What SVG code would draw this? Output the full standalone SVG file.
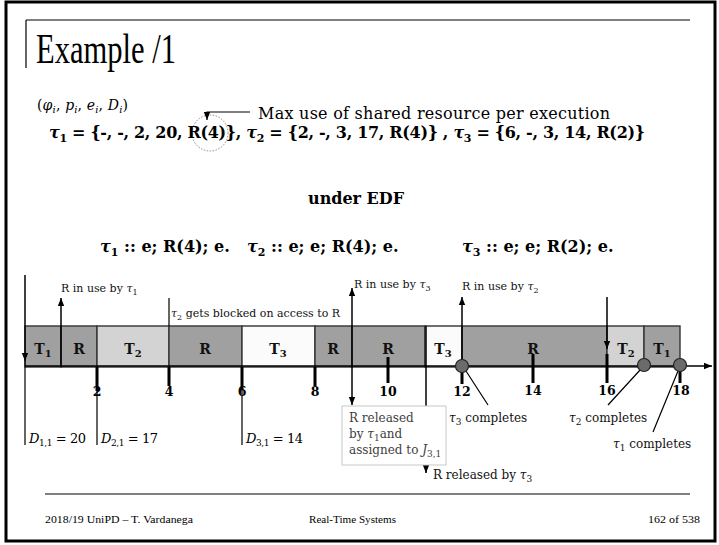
<svg xmlns="http://www.w3.org/2000/svg" width="719" height="545" viewBox="0 0 719 545">
<defs>
<marker id="ah" viewBox="0 0 8 8" refX="8" refY="4" markerWidth="8" markerHeight="8" orient="auto" markerUnits="userSpaceOnUse"><path d="M0,0.8 L8,4 L0,7.2 z" fill="#000"/></marker>
<style>
.frame{fill:none;stroke:#000;stroke-width:3}
.rule{stroke:#000;stroke-width:1.2}
.seg{stroke:#333;stroke-width:1.4}
.dk{fill:#a0a0a0}
.lt{fill:#d3d3d3}
.wh{fill:#fbfbfb}
.lbl{font-family:"DejaVu Serif",serif;font-weight:bold;font-size:14px;text-anchor:middle;fill:#111}
.num{font-family:"DejaVu Serif",serif;font-weight:bold;font-size:12.5px;text-anchor:middle;fill:#000}
.note{font-family:"DejaVu Serif",serif;font-size:11px;fill:#111}
.cmp{font-family:"DejaVu Serif",serif;font-size:12px;fill:#111}
.box{font-family:"DejaVu Serif",serif;font-size:12px;fill:#404040}
.bf{font-family:"DejaVu Serif",serif;font-weight:bold;font-size:16px;fill:#000}
.mi{font-family:"DejaVu Serif",serif;font-size:14px;fill:#000}
.dl{font-family:"DejaVu Serif",serif;font-size:13px;fill:#000}
.gar{font-family:"Liberation Serif",serif;fill:#000}
.it{font-style:italic}
.tick{stroke:#000;stroke-width:3}
.thin{stroke:#000;stroke-width:1.2;fill:none}
.arr{stroke:#000;stroke-width:1.5;fill:none;marker-end:url(#ah)}
.dot{fill:#6b6b6b;stroke:#222;stroke-width:1.2}
</style>
</defs>
<rect x="0" y="0" width="719" height="545" fill="#fff"/>
<rect class="frame" x="6" y="2" width="709" height="539"/>

<g id="title">
<path class="rule" d="M26,20 H690 M26,20 V68" fill="none"/>
<text class="gar" x="36" y="63" font-size="42" textLength="140" lengthAdjust="spacingAndGlyphs">Example /1</text>
</g>

<g id="header">
<text class="mi" x="37" y="110" textLength="91">(<tspan class="it">φ</tspan><tspan font-size="10" dy="3" class="it">i</tspan><tspan dy="-3">, </tspan><tspan class="it">p</tspan><tspan font-size="10" dy="3" class="it">i</tspan><tspan dy="-3">, </tspan><tspan class="it">e</tspan><tspan font-size="10" dy="3" class="it">i</tspan><tspan dy="-3">, </tspan><tspan class="it">D</tspan><tspan font-size="10" dy="3" class="it">i</tspan><tspan dy="-3">)</tspan></text>
<text x="258" y="119" style="font-family:'DejaVu Serif',serif" font-size="16" textLength="352">Max use of shared resource per execution</text>
<circle cx="210" cy="133" r="18" fill="none" stroke="#8a8a8a" stroke-width="1" stroke-dasharray="1.5 1.5"/>
<path class="thin" d="M250,112 H207 V120" stroke-width="1" marker-end="url(#ah)"/>
<text class="bf" x="49" y="138" textLength="596"><tspan class="it">τ</tspan><tspan font-size="11" dy="4">1</tspan><tspan dy="-4"> = {-, -, 2, 20, R(4)}, </tspan><tspan class="it">τ</tspan><tspan font-size="11" dy="4">2</tspan><tspan dy="-4"> = {2, -, 3, 17, R(4)} , </tspan><tspan class="it">τ</tspan><tspan font-size="11" dy="4">3</tspan><tspan dy="-4"> = {6, -, 3, 14, R(2)}</tspan></text>
<text class="bf" x="308" y="204" textLength="96">under EDF</text>
<text class="bf" x="100" y="252"><tspan class="it">τ</tspan><tspan font-size="11" dy="4">1</tspan><tspan dy="-4"> :: e; R(4); e.</tspan></text>
<text class="bf" x="247" y="252"><tspan class="it">τ</tspan><tspan font-size="11" dy="4">2</tspan><tspan dy="-4"> :: e; e; R(4); e.</tspan></text>
<text class="bf" x="462" y="252"><tspan class="it">τ</tspan><tspan font-size="11" dy="4">3</tspan><tspan dy="-4"> :: e; e; R(2); e.</tspan></text>
</g>

<g id="bar">
<rect class="seg dk" x="25" y="326" width="36" height="41"/>
<rect class="seg dk" x="61" y="326" width="36" height="41"/>
<rect class="seg lt" x="97" y="326" width="72" height="41"/>
<rect class="seg dk" x="169" y="326" width="73" height="41"/>
<rect class="seg wh" x="242" y="326" width="73" height="41"/>
<rect class="seg dk" x="315" y="326" width="37" height="41"/>
<rect class="seg dk" x="352" y="326" width="73" height="41"/>
<rect class="seg wh" x="425" y="326" width="37" height="41"/>
<rect class="seg dk" x="462" y="326" width="145" height="41"/>
<rect class="seg lt" x="607" y="326" width="37" height="41"/>
<rect class="seg dk" x="644" y="326" width="36" height="41"/>
<text class="lbl" x="43" y="354">T<tspan font-size="10" dy="3">1</tspan></text>
<text class="lbl" x="79" y="354">R</text>
<text class="lbl" x="133" y="354">T<tspan font-size="10" dy="3">2</tspan></text>
<text class="lbl" x="205" y="354">R</text>
<text class="lbl" x="278" y="354">T<tspan font-size="10" dy="3">3</tspan></text>
<text class="lbl" x="333" y="354">R</text>
<text class="lbl" x="388" y="354">R</text>
<text class="lbl" x="443" y="354">T<tspan font-size="10" dy="3">3</tspan></text>
<text class="lbl" x="533" y="354">R</text>
<text class="lbl" x="626" y="354">T<tspan font-size="10" dy="3">2</tspan></text>
<text class="lbl" x="662" y="354">T<tspan font-size="10" dy="3">1</tspan></text>
</g>

<g id="axis">
<line x1="25" y1="366" x2="712" y2="366" stroke="#000" stroke-width="1.5" marker-end="url(#ah)"/>
<path class="tick" d="M97,367 V391 M169,367 V386 M242,367 V390 M315,367 V386 M388,357 V383 M462,372 V384 M533,354 V383 M607,354 V383 M680,371 V383"/>
<text class="num" x="97" y="396">2</text>
<text class="num" x="169" y="396">4</text>
<text class="num" x="242" y="396">6</text>
<text class="num" x="315" y="396">8</text>
<text class="num" x="388" y="396">10</text>
<text class="num" x="462" y="396">12</text>
<text class="num" x="533" y="395">14</text>
<text class="num" x="607" y="395">16</text>
<text class="num" x="681" y="395">18</text>
</g>

<g id="connectors">
<line class="arr" x1="25" y1="275" x2="25" y2="361"/>
<path class="thin" d="M25,361 V445 M97,367 V445 M242,367 V445"/>
<line class="arr" x1="61" y1="367" x2="61" y2="298"/>
<line class="thin" x1="169" y1="298" x2="169" y2="326"/>
<line class="arr" x1="352" y1="326" x2="352" y2="288"/>
<line class="arr" x1="352" y1="326" x2="352" y2="405"/>
<line class="arr" x1="426" y1="326" x2="426" y2="473"/>
<line class="arr" x1="462" y1="362" x2="462" y2="297"/>
<line class="arr" x1="607" y1="297" x2="607" y2="349"/>
<path class="thin" d="M466,371 L488,405 M641,369 L608,405 M678,371 L653,432" stroke-width="0.9"/>
</g>

<g id="completions">
<circle class="dot" cx="462" cy="366" r="6.5"/>
<circle class="dot" cx="644" cy="365" r="6.5"/>
<circle class="dot" cx="680" cy="365" r="6.5"/>
</g>

<g id="labels">
<text class="note" x="61" y="292">R in use by <tspan class="it">τ</tspan><tspan font-size="8" dy="3">1</tspan></text>
<text class="note" x="171" y="317"><tspan class="it">τ</tspan><tspan font-size="8" dy="3">2</tspan><tspan dy="-3"> gets blocked on access to R</tspan></text>
<text class="note" x="354" y="288">R in use by <tspan class="it">τ</tspan><tspan font-size="8" dy="3">3</tspan></text>
<text class="note" x="462" y="290">R in use by <tspan class="it">τ</tspan><tspan font-size="8" dy="3">2</tspan></text>
<text class="cmp" x="449" y="422"><tspan class="it">τ</tspan><tspan font-size="9" dy="3">3</tspan><tspan dy="-3"> completes</tspan></text>
<text class="cmp" x="569" y="422"><tspan class="it">τ</tspan><tspan font-size="9" dy="3">2</tspan><tspan dy="-3"> completes</tspan></text>
<text class="cmp" x="613" y="448"><tspan class="it">τ</tspan><tspan font-size="9" dy="3">1</tspan><tspan dy="-3"> completes</tspan></text>
<text class="cmp" x="433" y="479">R released by <tspan class="it">τ</tspan><tspan font-size="9" dy="3">3</tspan></text>
<text class="dl" x="29" y="443" textLength="57"><tspan class="it">D</tspan><tspan font-size="9" dy="3">1,1</tspan><tspan dy="-3"> = 20</tspan></text>
<text class="dl" x="101" y="443" textLength="57"><tspan class="it">D</tspan><tspan font-size="9" dy="3">2,1</tspan><tspan dy="-3"> = 17</tspan></text>
<text class="dl" x="246" y="443" textLength="57"><tspan class="it">D</tspan><tspan font-size="9" dy="3">3,1</tspan><tspan dy="-3"> = 14</tspan></text>
</g>

<g id="release-box">
<rect x="342" y="406" width="104" height="59" fill="#fff" stroke="#c8c8c8" stroke-width="1"/>
<text class="box" x="349" y="422">R released</text>
<text class="box" x="349" y="438">by <tspan class="it">τ</tspan><tspan font-size="9" dy="3">1</tspan><tspan dy="-3">and</tspan></text>
<text class="box" x="349" y="454">assigned to <tspan class="it">J</tspan><tspan font-size="9" dy="3">3,1</tspan></text>
</g>

<g id="footer">
<line class="rule" x1="45" y1="494" x2="690" y2="494" stroke-width="1.5"/>
<text class="gar" x="45" y="523" font-size="10.5" textLength="148" lengthAdjust="spacingAndGlyphs">2018/19 UniPD – T. Vardanega</text>
<text class="gar" x="309" y="523" font-size="10.5" textLength="87" lengthAdjust="spacingAndGlyphs">Real-Time Systems</text>
<text class="gar" x="648" y="523" font-size="10.5" textLength="52" lengthAdjust="spacingAndGlyphs">162 of 538</text>
</g>
</svg>
